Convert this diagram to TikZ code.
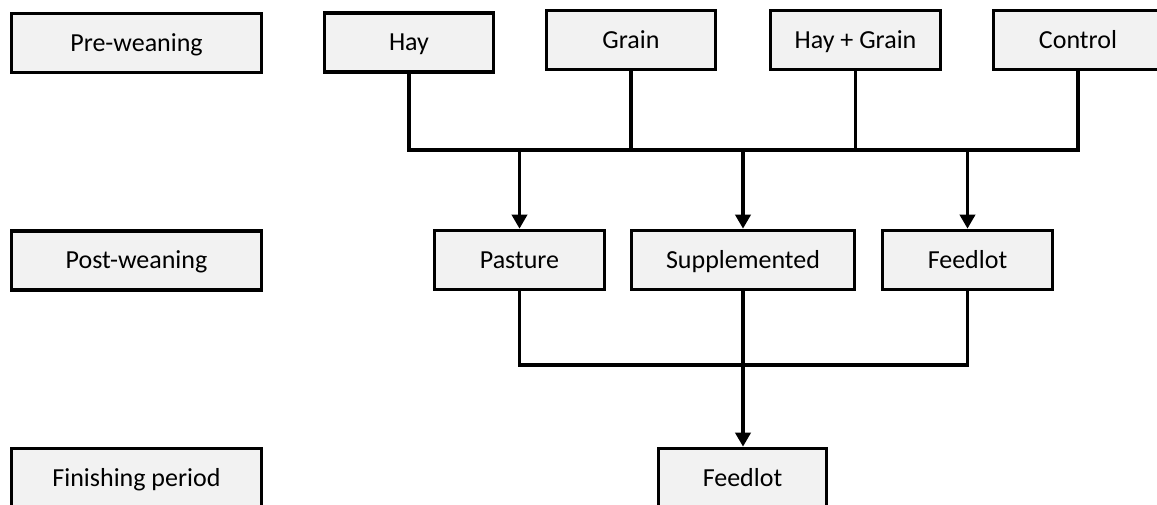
\documentclass[tikz,border=0pt]{standalone}
\usepackage{fontspec}
\setmainfont{Carlito}
\usetikzlibrary{arrows.meta}
\definecolor{boxfill}{HTML}{F2F2F2}
\begin{document}
\begin{tikzpicture}[x=0.5pt,y=-0.5pt,
  box/.style={draw=black, fill=boxfill, line width=1.8pt, inner sep=0pt,
    font=\fontsize{13}{15}\selectfont, text=black, minimum height=29.5pt,
    text height=8.4pt, text depth=0pt},
  conn/.style={line width=1.8pt},
  arr/.style={conn,-{Triangle[width=7.5pt,length=7pt]}}]
\useasboundingbox (0,0) rectangle (1157,504);
% left labels
\node[box, minimum width=125pt] (pre)  at (136.5,43)  {Pre-weaning};
\node[box, minimum width=125pt] (post) at (136.5,260.5) {Post-weaning};
\node[box, minimum width=125pt] (fin)  at (136.5,478) {Finishing period};
% pre-weaning row
\node[box, minimum width=84.5pt] (hay)   at (409,42.5) {Hay};
\node[box, minimum width=84.5pt] (grain) at (631,40)   {Grain};
\node[box, minimum width=85pt]   (hg)    at (855.5,40) {Hay + Grain};
\node[box, minimum width=84.5pt] (ctrl)  at (1078,40)  {Control};
% post-weaning row
\node[box, minimum width=85pt]   (past) at (519.5,260) {Pasture};
\node[box, minimum width=111.5pt] (supp) at (743,260)   {Supplemented};
\node[box, minimum width=85pt]   (feed) at (967.5,260) {Feedlot};
% finishing
\node[box, minimum width=84pt] (feed2) at (742.5,478) {Feedlot};
% connectors
\coordinate (topbus) at (0,150);
\coordinate (lowbus) at (0,365);
\draw[conn] (hay.south) |- (ctrl.south |- topbus) -- (ctrl.south);
\draw[conn] (grain.south) -- (grain.south |- topbus);
\draw[conn] (hg.south) -- (hg.south |- topbus);
\draw[arr] (past.north |- topbus) -- (past.north);
\draw[arr] (supp.north |- topbus) -- (supp.north);
\draw[arr] (feed.north |- topbus) -- (feed.north);
\draw[conn] (past.south) |- (feed.south |- lowbus) -- (feed.south);
\draw[arr] (supp.south) -- (supp.south |- feed2.north);
\end{tikzpicture}
\end{document}
